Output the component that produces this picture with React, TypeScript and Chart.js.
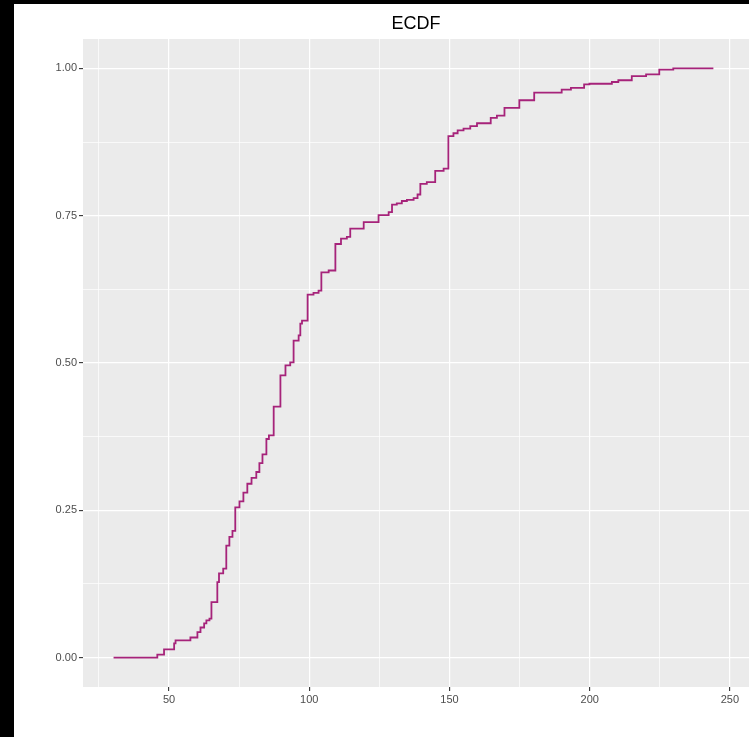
import React, { useEffect, useRef } from "react";
import { Chart, registerables } from "chart.js";

Chart.register(...registerables);

// ECDF step positions (x) and cumulative proportion after each step (y)
const ecdfX = [
  30.2, 45.8, 48.2, 51.8, 52.3, 57.6, 60.1, 61.2, 62.5, 63.3, 64.4, 65.1, 67.2, 67.8, 69.3,
  70.4, 71.5, 72.6, 73.6, 75.1, 76.5, 77.9, 79.4, 81.1, 82.2, 83.3, 84.7, 85.6, 87.3, 89.7,
  91.5, 93.2, 94.4, 96.2, 96.8, 97.4, 99.4, 101.5, 103.3, 104.3, 106.9, 109.3, 111.3, 113.4,
  114.6, 119.4, 124.7, 128.3, 129.5, 131.2, 133.0, 134.8, 137.2, 138.6, 139.6, 141.9, 144.9,
  147.9, 149.6, 151.4, 152.9, 155.0, 157.4, 159.8, 164.7, 166.9, 169.6, 174.9, 180.2, 190.0,
  193.3, 198.0, 199.9, 207.9, 210.2, 215.0, 220.1, 224.8, 229.8, 244.1,
];
const ecdfY = [
  0, 0.005, 0.014, 0.024, 0.029, 0.034, 0.043, 0.051, 0.058, 0.063, 0.066, 0.094, 0.128, 0.143, 0.151,
  0.19, 0.205, 0.215, 0.255, 0.265, 0.28, 0.295, 0.305, 0.315, 0.33, 0.345, 0.371, 0.377, 0.426, 0.479,
  0.496, 0.501, 0.538, 0.547, 0.567, 0.572, 0.616, 0.619, 0.623, 0.654, 0.657, 0.702, 0.711, 0.714,
  0.728, 0.739, 0.751, 0.756, 0.769, 0.771, 0.775, 0.777, 0.78, 0.786, 0.804, 0.807, 0.826,
  0.83, 0.885, 0.89, 0.895, 0.898, 0.902, 0.907, 0.916, 0.92, 0.933, 0.946, 0.959, 0.964,
  0.967, 0.973, 0.974, 0.977, 0.98, 0.987, 0.99, 0.998, 1.0, 1.0,
];

const xMajorTicks = [50, 100, 150, 200, 250];
const xMinorTicks = [25, 75, 125, 175, 225];
const yMajorTicks = [0, 0.25, 0.5, 0.75, 1.0];
const yMinorTicks = [0.125, 0.375, 0.625, 0.875];
const titleText = "ECDF";

const FONT = "'Liberation Sans', Arial, sans-serif";

export default function App() {
  const ref = useRef<HTMLCanvasElement | null>(null);

  useEffect(() => {
    const canvas = ref.current;
    if (!canvas) return;

    const isMajorX = (v: number) => xMajorTicks.includes(v);
    const isMajorY = (v: number) => yMajorTicks.some((t) => Math.abs(t - v) < 1e-9);

    const bgPlugin = {
      id: "bgPlugin",
      beforeDraw(chart: any) {
        const { ctx, chartArea, width, height } = chart;
        ctx.save();
        ctx.fillStyle = "#ffffff";
        ctx.fillRect(0, 0, width, height);
        ctx.fillStyle = "#ebebeb";
        ctx.fillRect(chartArea.left, chartArea.top, chartArea.right - chartArea.left, chartArea.bottom - chartArea.top);
        ctx.fillStyle = "#000000";
        ctx.fillRect(0, 0, 14, height);
        ctx.fillRect(0, 0, width, 4);
        ctx.restore();
      },
      afterDraw(chart: any) {
        const { ctx, chartArea } = chart;
        ctx.save();
        ctx.fillStyle = "#000000";
        ctx.font = `18px ${FONT}`;
        ctx.textAlign = "center";
        ctx.textBaseline = "middle";
        ctx.fillText(titleText, (chartArea.left + chartArea.right) / 2, 24);
        ctx.restore();
      },
    };

    const chart = new Chart(canvas, {
      type: "line",
      data: {
        datasets: [
          {
            data: ecdfX.map((x, i) => ({ x, y: ecdfY[i] })),
            borderColor: "#a6237a",
            borderWidth: 1.8,
            pointRadius: 0,
            stepped: "before",
            fill: false,
            tension: 0,
          },
        ],
      },
      options: {
        animation: false,
        responsive: false,
        maintainAspectRatio: false,
        layout: { padding: { top: 39, left: 0, right: 0, bottom: 0 } },
        plugins: { legend: { display: false }, tooltip: { enabled: false }, title: { display: false } },
        scales: {
          x: {
            type: "linear",
            min: 19.3,
            max: 256.8,
            afterBuildTicks: (s: any) => {
              s.ticks = [...xMinorTicks, ...xMajorTicks].sort((a, b) => a - b).map((v) => ({ value: v }));
            },
            afterFit: (s: any) => {
              s.height = 50;
            },
            border: { display: false },
            grid: {
              color: "#ffffff",
              lineWidth: (c: any) => (c.tick && isMajorX(c.tick.value) ? 1.2 : 0.7),
              tickColor: (c: any) => (c.tick && isMajorX(c.tick.value) ? "#333333" : "rgba(0,0,0,0)"),
              tickWidth: 1.1,
              tickLength: 4,
              drawTicks: true,
            },
            ticks: {
              autoSkip: false,
              maxRotation: 0,
              padding: 2,
              color: "#4d4d4d",
              font: { family: FONT, size: 11 },
              callback: (v: any) => (isMajorX(Number(v)) ? String(v) : ""),
            },
          },
          y: {
            type: "linear",
            min: -0.05,
            max: 1.05,
            afterBuildTicks: (s: any) => {
              s.ticks = [...yMinorTicks, ...yMajorTicks].sort((a, b) => a - b).map((v) => ({ value: v }));
            },
            afterFit: (s: any) => {
              s.width = 83;
            },
            border: { display: false },
            grid: {
              color: "#ffffff",
              lineWidth: (c: any) => (c.tick && isMajorY(c.tick.value) ? 1.2 : 0.7),
              tickColor: (c: any) => (c.tick && isMajorY(c.tick.value) ? "#333333" : "rgba(0,0,0,0)"),
              tickWidth: 1.1,
              tickLength: 4,
              drawTicks: true,
            },
            ticks: {
              autoSkip: false,
              padding: 2,
              color: "#4d4d4d",
              font: { family: FONT, size: 11 },
              callback: (v: any) => (isMajorY(Number(v)) ? Number(v).toFixed(2) : ""),
            },
          },
        },
      },
      plugins: [bgPlugin],
    } as any);

    return () => chart.destroy();
  }, []);

  return (
    <div style={{ position: "absolute", left: 0, top: 0, width: 749, height: 737, background: "#fff" }}>
      <canvas ref={ref} width={749} height={737} style={{ display: "block", width: 749, height: 737 }} />
    </div>
  );
}
